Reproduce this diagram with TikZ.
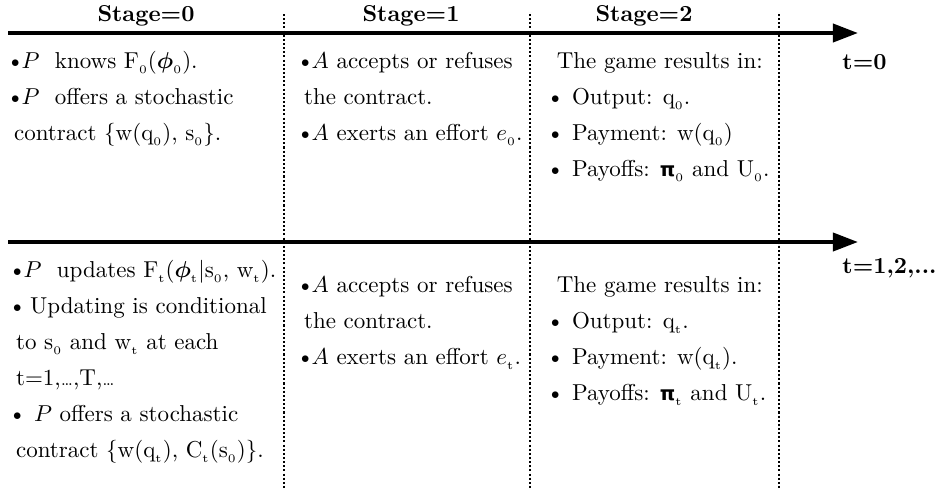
\documentclass[tikz,border=0pt]{standalone}
\usepackage{fontspec}
\usepackage{bm}
\usetikzlibrary{arrows.meta}
\newfontfamily\dejavu{DejaVu Sans}
\newcommand\lo[1]{\raisebox{-0.6pt}{$_{\scriptscriptstyle\mathrm{#1}}$}}
\newcommand\gpi{{\dejavu\bfseries\fontsize{8.5}{10}\selectfont π}}
\newcommand\bu{\textbullet}
\newcommand\bt{\textbullet\kern-1.2pt}
\begin{document}
\begin{tikzpicture}[x=0.4348pt,y=-0.4348pt,
  axis/.style={line width=1.75pt,-{Triangle[length=10.9pt,width=7.8pt]}},
  sep/.style={line width=0.6pt,dash pattern=on 0.9pt off 0.9pt},
  txt/.style={anchor=north west,align=left,inner sep=0pt,font=\fontsize{10}{15.65}\selectfont},
  head/.style={inner sep=0pt,font=\bfseries\fontsize{10}{12}\selectfont},
  tlab/.style={anchor=west,inner sep=0pt,font=\bfseries\fontsize{10}{12}\selectfont}]
\useasboundingbox (0,0) rectangle (936,490);
% axes
\coordinate (a0s) at (8,33);
\coordinate (a0e) at (858,33);
\coordinate (a1s) at (8,242);
\coordinate (a1e) at (858,242);
\draw[axis] (a0s) -- (a0e);
\draw[axis] (a1s) -- (a1e);
% separators
\foreach \x/\n in {284/d1,530/d2,779/d3}{
  \coordinate (\n t) at (\x,14);
  \coordinate (\n b) at (\x,490);
  \draw[sep] (\n t) -- (\n b);
}
% headers
\node[head] (h0) at (146,16) {Stage=0};
\node[head] (h1) at (411,16) {Stage=1};
\node[head] (h2) at (644,16) {Stage=2};
\node[tlab] (t0) at (842,62) {t=0};
\node[tlab] (t1) at (842,268) {t=1,2,...};
% period 0
\node[txt] (p00) at (6,42.8) {\strut\bt$P$\ \ knows F\lo0($\bm\phi$\lo0).\\
\bt$P$\ \ offers a stochastic\\
\ contract \{w(q\lo0), s\lo0\}.};
\node[txt] (p01) at (296,42.8) {\strut\bt$A$ accepts or refuses\\
\ the contract.\\
\bt$A$ exerts an effort $e$\lo0.};
\node[txt] (p02) at (546,42.8) {\strut\hspace*{4.5pt}The game results in:\\
\bu\ Output: q\lo0.\\
\bu\ Payment: w(q\lo0)\\
\bu\ Payoffs: \gpi\lo0 and U\lo0.};
% period t
\node[txt] (p10) at (8,251.8) {\strut\bt$P$\ \ updates F\lo t($\bm\phi$\lo t$|$s\lo0, w\lo t).\\
\bu\,Updating is conditional\\
\ to s\lo0 and w\lo t at each\\
\ t=1,{\scriptsize\ldots},T,{\scriptsize\ldots}\\
\bu\ $P$ offers a stochastic\\
\ contract \{w(q\lo t), C\lo t(s\lo0)\}.};
\node[txt] (p11) at (296,266.8) {\strut\bt$A$ accepts or refuses\\
\ the contract.\\
\bt$A$ exerts an effort $e$\lo t.};
\node[txt] (p12) at (546,266.8) {\strut\hspace*{4.5pt}The game results in:\\
\bu\ Output: q\lo t.\\
\bu\ Payment: w(q\lo t).\\
\bu\ Payoffs: \gpi\lo t and U\lo t.};
\end{tikzpicture}
\end{document}
